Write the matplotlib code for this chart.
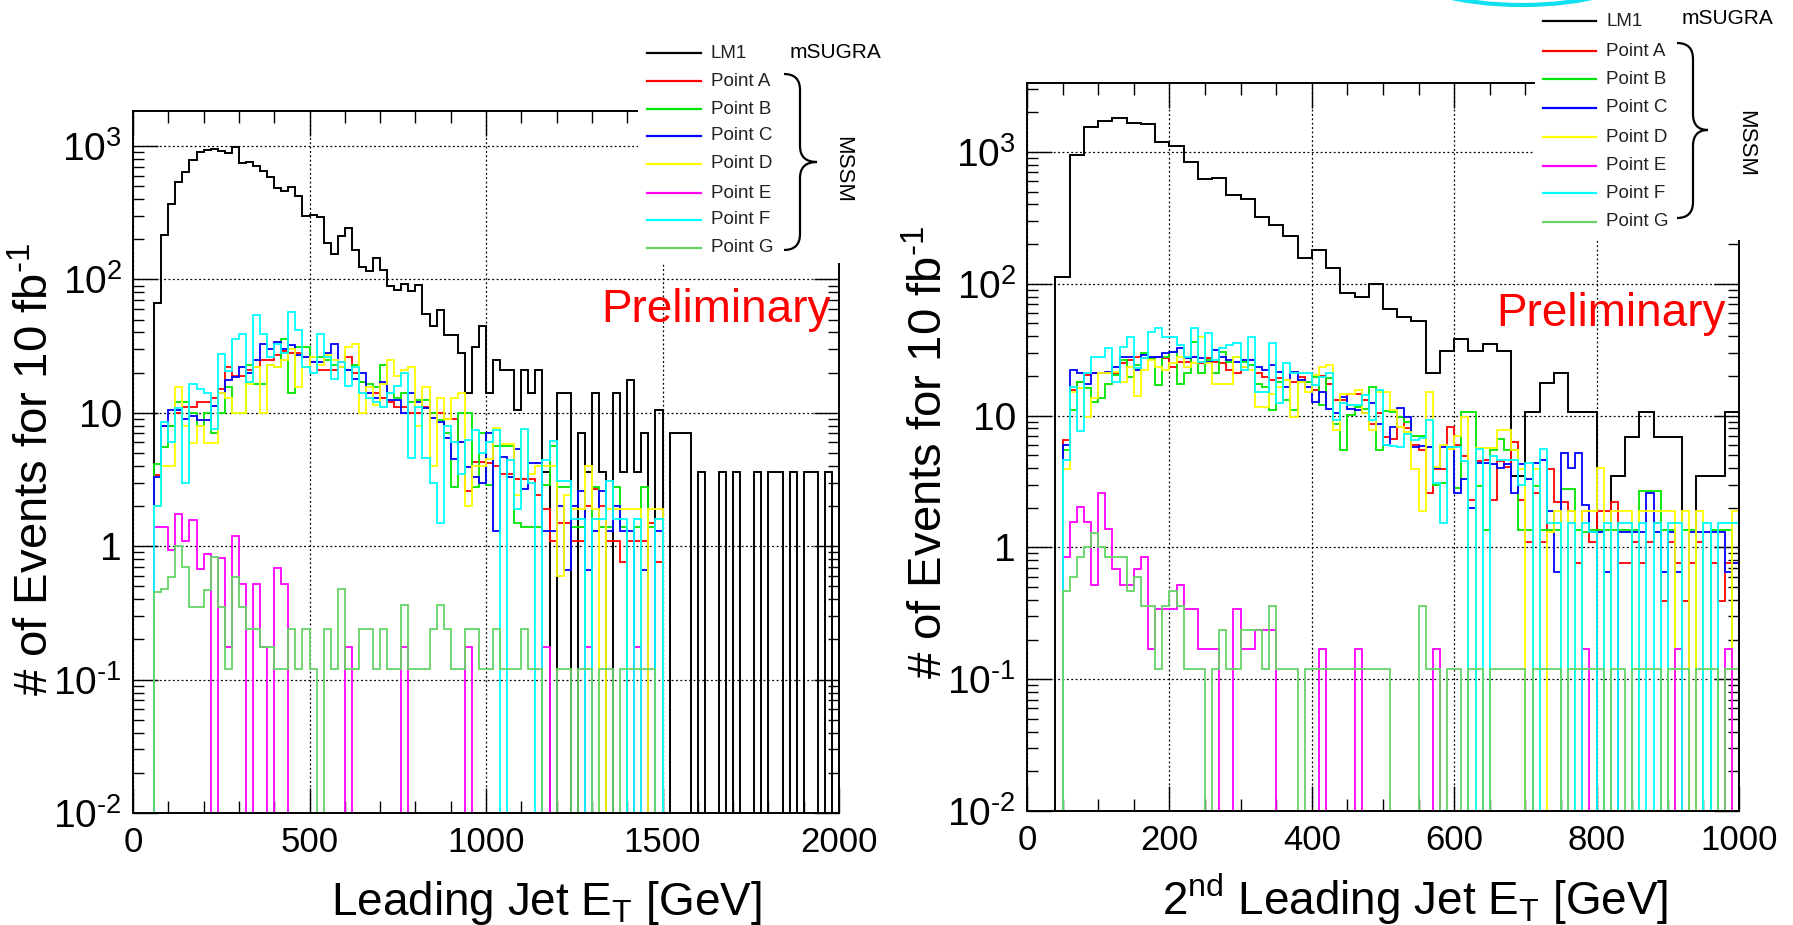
import numpy as np
import matplotlib
matplotlib.use('Agg')
from matplotlib import pyplot as plt
from matplotlib.lines import Line2D
from matplotlib.patches import Rectangle, Ellipse, PathPatch
from matplotlib.path import Path
from matplotlib.ticker import MultipleLocator, FixedLocator, FixedFormatter, LogLocator, NullFormatter

plt.rcParams['font.family'] = ['Liberation Sans', 'DejaVu Sans']
plt.rcParams['mathtext.fontset'] = 'custom'
plt.rcParams['mathtext.rm'] = 'Liberation Sans'

W, H = 1793, 925

series_names = ['LM1', 'Point A', 'Point B', 'Point C', 'Point D', 'Point E', 'Point F', 'Point G']
series_colors = ['black', '#ff0000', '#00e600', '#0000ff', '#ffff00', '#ff00ff', '#00ffff', '#66d466']

# ---- leading jet ET, 20 GeV bins ----
lead_lm1_start = 60     # LM1 bins 60..2000
lead_pt_start = 60      # MSSM points bins 60..1500
lead_bin = 20

lead_lm1 = [67, 215, 367, 540, 638, 785, 896, 928, 950, 923,
            881, 989, 741, 763, 708, 653, 582, 481, 459, 495,
            422, 298, 305, 292, 188, 155, 210, 241, 167, 124,
            115, 144, 117, 89, 84, 93, 82, 91, 55, 45,
            59, 38, 38, 28, 14, 31, 45,
            14, 25, 21, 21, 10.5, 21, 14, 21, 3.6, 0,
            14, 14, 0, 7, 3.6, 14, 3.6, 0, 14, 3.6,
            17.5, 3.6, 7, 0, 10.5, 0, 7, 7, 7, 0,
            3.6, 0, 0, 3.6, 0, 3.6, 0, 0, 3.6, 0,
            3.6, 3.6, 0, 3.6, 0, 3.6, 3.6, 0, 3.6, 0]
lead_a = [3.4, 8, 8, 10, 11, 11, 12, 12, 13, 15,
          22, 19, 19, 21, 22, 25, 25, 27, 29, 28,
          28, 26, 24, 21, 21, 21, 24, 26, 20, 17,
          14, 14, 13, 12, 11, 11, 10, 10, 11, 10,
          10, 9, 9, 6, 2.6, 4.3, 4.3, 4.2, 4.0, 3.5,
          3.5, 3.2, 3.2, 3.2, 2.4, 1.9, 1.1, 1.5, 1.5, 1.1,
          1.1, 2.0, 2.7, 2.0, 1.1, 1.1, 0.76, 1.1, 1.1, 1.1,
          1.5, 0.76]
lead_b = [4.1, 5.5, 8, 12, 12, 10, 8, 10, 7, 10,
          15.6, 10, 10, 23, 16.5, 16.5, 23, 22, 36, 14,
          31, 31, 26, 26, 25, 23, 22, 21, 23, 17,
          16.5, 15.6, 23, 14, 13, 14, 12, 12.5, 12.5, 10,
          8.9, 7, 2.8, 10, 10, 2.8, 7, 2.9, 5.6, 5.6,
          5.6, 1.5, 1.4, 1.4, 1.4, 2.9, 5.6, 2.8, 2.8, 1.4,
          1.4, 0, 2.8, 1.4, 1.4, 2.8, 1.4, 0, 1.4, 2.8,
          1.4, 0]
lead_c = [3.3, 8, 10.5, 10.5, 9, 9.5, 8.9, 8.9, 11.2, 14,
          17.6, 18.5, 22, 20, 25, 33, 30, 34, 30, 32,
          27, 26, 24, 24, 28, 33, 22, 21, 18, 20,
          14, 13, 17, 12.4, 12.4, 10, 14, 12, 10.8, 9.2,
          8.5, 6.5, 4.5, 6, 3.9, 3.3, 3, 7, 1.3, 4.7,
          3.3, 5.4, 2.7, 4.2, 4.2, 1.3, 1.3, 2, 0.66, 2,
          2.6, 0.66, 1.3, 2.6, 1.3, 2, 1.3, 1.3, 0, 0.66,
          0, 1.3]
lead_d = [2, 4, 4, 15.6, 7.9, 5.9, 7.9, 5.9, 5.9, 14,
          13, 10, 10, 16.5, 22, 10, 23, 22, 25, 30,
          15.6, 22, 26, 23, 27, 25, 22, 31, 33, 10,
          15.6, 11.5, 16.5, 25, 19, 21, 22, 7.9, 15.6, 4,
          13, 9, 13, 14, 2, 4, 4, 4.5, 7.7, 5.8,
          5.8, 2.4, 7.5, 3.5, 4, 4, 4, 0.6, 2.4, 1.9,
          1.9, 4, 1.9, 0, 1.9, 1.9, 1.9, 1.9, 1.9, 0,
          1.9, 1.9]
lead_e = [1.4, 1.4, 0.93, 1.74, 1.1, 1.57, 0.68, 0.87, 0, 0.81,
          0.175, 1.2, 0.52, 0, 0.52, 0.175, 0, 0.69, 0.52, 0,
          0, 0, 0, 0, 0, 0, 0, 0.175, 0, 0,
          0, 0, 0, 0, 0, 0.175, 0, 0, 0, 0,
          0, 0, 0, 0, 0.175, 0, 0, 0, 0, 0,
          0, 0, 0, 0, 0, 0.175, 0, 0, 0, 0,
          0, 0.175, 0, 0, 0, 0, 0, 0, 0.175, 0,
          0, 0]
lead_f = [2.0, 8.6, 6, 10.8, 3.0, 16.5, 15, 14, 7.6, 27.8,
          20.5, 36, 39, 17, 54, 39, 26, 33, 28, 57,
          42, 22, 20, 39, 26, 18, 24, 16, 22, 14,
          13, 12, 11, 14, 16, 20, 4.6, 11, 4.6, 3,
          1.5, 8, 6, 3.5, 6.3, 7.4, 5, 6, 7.4, 0,
          4.4, 1.9, 7.5, 3, 0, 4.4, 6.2, 3.1, 3.1, 1.6,
          1.6, 0, 1.6, 1.6, 3.1, 1.6, 1.6, 0, 1.6, 0,
          0, 1.6]
lead_g = [0.45, 0.48, 0.59, 1.0, 0.7, 0.35, 0.35, 0.47, 0.83, 0.35,
          0.12, 0.59, 0.35, 0.24, 0.24, 0.175, 0.175, 0.12, 0.12, 0.24,
          0.12, 0.24, 0.12, 0, 0.24, 0.12, 0.48, 0.12, 0.12, 0.24,
          0.24, 0.12, 0.24, 0.12, 0.12, 0.36, 0.12, 0.12, 0.12, 0.24,
          0.36, 0.24, 0.12, 0.12, 0.24, 0.24, 0.12, 0.12, 0.24, 0.12,
          0.12, 0.12, 0.24, 0.12, 0.12, 0, 0, 0.12, 0.12, 0,
          0.12, 0.12, 0, 0.12, 0.12, 0, 0.12, 0.12, 0.12, 0.12,
          0.12, 0]

# ---- 2nd leading jet ET: LM1 20 GeV bins from 40, points 10 GeV bins from 50 ----
sub_lm1_start, sub_lm1_bin = 40, 20
sub_pt_start, sub_pt_bin = 50, 10

sub_lm1 = [112, 944, 1557, 1710, 1802, 1668, 1630, 1184, 1117, 840,
           620, 635, 474, 437, 323, 277, 229, 156, 181, 132,
           84.5, 79, 99, 64, 56, 52, 21, 31, 38, 31,
           35, 31, 3.5, 10.6, 17.8, 21, 10.6, 10.6, 0, 3.5,
           6.9, 10.6, 6.9, 6.9, 0, 3.5, 3.5, 10.6]
sub_a = [6.5, 15.6, 18.1, 20.3, 20.9, 20.9, 20.9, 20.9, 24.9, 26.4,
         28.0, 27.2, 27.2, 28.0, 27.2, 23.5, 25.6, 25.6, 28.0, 24.9,
         27.2, 25.6, 24.9, 22.2, 20.9, 23.5, 26.4, 20.9, 19.7, 18.6,
         19.2, 18.6, 18.1, 19.7, 18.1, 15.6, 20.0, 17.5, 13.1, 13.1,
         14.5, 14.7, 13.1, 8.7, 10.4, 6.9, 6.7, 9.8, 8.0, 6.0,
         5.5, 2.6, 3.9, 3.9, 8.2, 6.0, 4.9, 2.3, 4.5, 4.6,
         2.3, 4.5, 4.1, 6.3, 2.3, 1.1, 2.6, 1.1, 3.9, 2.2,
         2.2, 1.9, 0.76, 1.9, 1.1, 1.9, 1.9, 2.2, 0.76, 0.76,
         1.1, 0.76, 1.1, 1.52, 0.39, 1.1, 0.76, 0.39, 0.76, 1.1,
         0, 0.76, 0.39, 0.76, 0.76]
sub_b = [5.5, 11.0, 18.1, 16.1, 12.7, 13.5, 17.5, 20.3, 26.4, 19.7,
         24.2, 29.7, 27.2, 17.1, 28.0, 30.5, 17.5, 20.9, 36.4, 20.9,
         26.4, 20.9, 30.5, 25.6, 28.0, 25.6, 24.2, 17.5, 16.6, 11.0,
         18.1, 13.1, 11.0, 18.1, 18.1, 19.7, 12.0, 19.2, 8.7, 5.5,
         10.1, 11.7, 11.3, 16.6, 5.5, 10.9, 10.7, 9.8, 8.9, 7,
         7, 5.8, 3, 3.1, 5.8, 2.8, 10.7, 10.7, 2.9, 1.35,
         5.5, 6.7, 5.5, 5.5, 1.35, 1.35, 2.9, 1.35, 1.35, 1.35,
         2.75, 2.75, 1.35, 1.3, 1.35, 1.35, 1.35, 1.35, 1.35, 1.35,
         1.35, 2.7, 2.7, 2.7, 1.35, 1.35, 0, 1.35, 1.35, 0,
         0, 1.35, 1.35, 1.35, 0]
sub_c = [6.0, 22.2, 20.9, 17.5, 20.9, 20.9, 21.5, 23.5, 28.0, 28.0,
         22.2, 28.8, 28.0, 28.0, 29.7, 30.5, 32.4, 27.2, 28.0, 27.2,
         25.6, 31.4, 28.0, 26.4, 25.6, 26.4, 26.4, 23.5, 22.2, 24.2,
         21.5, 16.6, 21.5, 18.6, 16.6, 12.7, 15.2, 11.3, 10.4, 13.9,
         11.3, 11.0, 10.4, 12.4, 8.7, 6, 8.2, 11.4, 9.8, 5.8,
         5.9, 5.8, 4, 5.8, 5.8, 2.6, 3.3, 2, 4.4, 4.4,
         4.3, 4, 4.3, 2.6, 4.3, 3.3, 4.4, 4.6, 1.9, 0.65,
         5.2, 4, 5.2, 2.1, 1.3, 1.3, 0.65, 0, 1.3, 1.3,
         1.3, 1.3, 2.6, 1.3, 0.65, 1.3, 0.65, 0, 1.3, 1.3,
         1.3, 1.3, 1.3, 0.65, 0.76]
sub_d = [3.9, 15.2, 16.1, 9.8, 13.5, 20.9, 20.9, 21.5, 18.1, 23.5,
         14.0, 22.2, 26.4, 23.5, 22.2, 24.9, 28.0, 23.5, 24.9, 39.7,
         24.9, 17.5, 17.5, 17.5, 28.0, 23.5, 22.2, 11.7, 11.7, 14.7,
         16.6, 18.6, 9.8, 18.1, 15.2, 20.3, 23.5, 24.2, 7.8, 14.7,
         14.7, 15.6, 10.4, 7.8, 15.2, 15.2, 11, 8.2, 7.5, 3.9,
         1.9, 15.2, 4.1, 6, 5.6, 7, 9.8, 0, 5.7, 5.7,
         5.7, 7.8, 7.8, 5.5, 3.9, 0, 3.9, 0, 1.3, 1.9,
         0, 1.9, 0, 1.9, 1.9, 4, 0, 1.9, 1.9, 1.9,
         0, 1.9, 1.9, 1.9, 1.9, 1.9, 0, 1.9, 0, 1.9,
         0, 0, 0, 0, 1.9]
sub_e = [0.84, 1.57, 2.04, 1.57, 0.52, 2.58, 1.37, 0.69, 0.52, 0.52,
         0.69, 0.85, 0.17, 0.34, 0.34, 0.34, 0.52, 0.34, 0.34, 0.17,
         0.17, 0.17, 0, 0, 0.34, 0.17, 0.17, 0.235, 0.235, 0.235,
         0, 0, 0, 0, 0, 0, 0.17, 0, 0, 0,
         0, 0.17, 0, 0, 0, 0, 0, 0, 0, 0,
         0, 0, 0.17, 0, 0, 0, 0, 0, 0, 0,
         0, 0, 0, 0, 0, 0, 0, 0, 0, 0,
         0, 0, 0, 0.17, 0, 0, 0, 0, 0, 0,
         0, 0, 0, 0, 0, 0, 0.17, 0, 0, 0,
         0, 0, 0, 0.17, 0]
sub_f = [4.6, 16.6, 7.6, 20.9, 28.0, 28.0, 32.4, 18.1, 33.3, 39.7,
         22.8, 27.2, 43.3, 45.9, 39.7, 39.7, 34.3, 28.0, 45.9, 25.6,
         42, 26.4, 32.4, 34.3, 35.3, 22.2, 39.7, 15.2, 15.2, 35.3,
         12.4, 24.9, 20.9, 20.9, 20.9, 17.1, 19.7, 20.9, 9.3, 12.4,
         12.0, 12.0, 14.3, 9.3, 15.6, 6, 5.9, 5.8, 7.3, 6.5,
         6.8, 9.3, 3.1, 1.52, 5.8, 5.8, 4.5, 0, 5.6, 0,
         4.9, 4.6, 4.6, 4.6, 3.0, 4.4, 0, 5.6, 1.52, 1.52,
         0, 1.52, 0, 1.52, 1.3, 0, 1.52, 0, 1.52, 1.52,
         0, 1.52, 0, 1.52, 0, 1.52, 1.52, 0, 0, 0,
         1.52, 0, 1.52, 1.52, 1.52]
sub_g = [0.47, 0.6, 0.85, 1.0, 1.29, 1.0, 0.85, 0.85, 0.85, 0.47,
         0.6, 0.36, 0.36, 0.12, 0.36, 0.47, 0.36, 0.12, 0.12, 0.12,
         0, 0.12, 0.235, 0.12, 0.12, 0.235, 0.235, 0.235, 0.12, 0.36,
         0.12, 0.12, 0.12, 0, 0.12, 0.12, 0.12, 0.12, 0.12, 0.12,
         0.12, 0.12, 0.12, 0.12, 0.12, 0.12, 0, 0, 0, 0,
         0.36, 0.12, 0.12, 0, 0.12, 0.12, 0, 0.12, 0.12, 0,
         0.12, 0.12, 0.12, 0.12, 0.12, 0, 0.12, 0.12, 0.12, 0.12,
         0, 0.12, 0.12, 0.12, 0.12, 0.12, 0, 0.12, 0.12, 0,
         0.12, 0.12, 0.12, 0.12, 0, 0.12, 0.12, 0.12, 0, 0.12,
         0.12, 0.12, 0, 0.12, 0.12]

FLOOR = 1e-5  # empty bins are drawn down to the axis bottom like ROOT does


def fx(x):
    return x / W


def fy(y):
    return 1 - y / H


def draw_hist(ax, vals, start, width, color, lw=1.3):
    v = np.asarray(vals, dtype=float)
    v = np.where(v > 0, v, FLOOR)
    edges = start + width * np.arange(len(v) + 1)
    ax.stairs(v, edges, baseline=FLOOR, color=color, lw=lw)


def style_axes(ax, xmax, ytop, xmaj, xmin_):
    ax.set_yscale('log')
    ax.set_xlim(0, xmax)
    ax.set_ylim(0.01, ytop)
    ax.xaxis.set_major_locator(MultipleLocator(xmaj))
    ax.xaxis.set_minor_locator(MultipleLocator(xmin_))
    ax.yaxis.set_major_locator(FixedLocator([1e-2, 1e-1, 1, 10, 1e2, 1e3]))
    ax.yaxis.set_major_formatter(FixedFormatter([r'$\mathregular{10^{\text{-}2}}$', r'$\mathregular{10^{\text{-}1}}$',
                                                 '1', '10', r'$\mathregular{10^{2}}$', r'$\mathregular{10^{3}}$']))
    ax.yaxis.set_minor_locator(LogLocator(base=10, subs=np.arange(2, 10), numticks=30))
    ax.yaxis.set_minor_formatter(NullFormatter())
    ax.tick_params(axis='both', which='both', direction='in', top=True, right=True, width=1.0)
    ax.tick_params(axis='y', which='major', length=18, labelsize=28, pad=8)
    ax.tick_params(axis='y', which='minor', length=8)
    ax.tick_params(axis='x', which='major', length=18, labelsize=25, pad=9)
    ax.tick_params(axis='x', which='minor', length=8.5)
    for s in ax.spines.values():
        s.set_linewidth(1.4)
    ax.set_axisbelow(True)
    ax.grid(True, which='major', color='black', ls=(0, (1.5, 2.0)), lw=0.9)


fig = plt.figure(figsize=(W / 100, H / 100), dpi=100)
ax_l = fig.add_axes([fx(133), fy(813), (839 - 133) / W, (813 - 111) / H])
ax_r = fig.add_axes([fx(1027), fy(811), (1739 - 1027) / W, (811 - 83) / H])

# left panel
draw_hist(ax_l, lead_lm1, lead_lm1_start, lead_bin, series_colors[0], lw=1.4)
for vals, col in zip([lead_a, lead_b, lead_c, lead_d, lead_e, lead_f, lead_g], series_colors[1:]):
    draw_hist(ax_l, vals, lead_pt_start, lead_bin, col)
style_axes(ax_l, 2000, 1830, 500, 100)

# right panel
draw_hist(ax_r, sub_lm1, sub_lm1_start, sub_lm1_bin, series_colors[0], lw=1.4)
for vals, col in zip([sub_a, sub_b, sub_c, sub_d, sub_e, sub_f, sub_g], series_colors[1:]):
    draw_hist(ax_r, vals, sub_pt_start, sub_pt_bin, col)
style_axes(ax_r, 1000, 3338, 200, 50)

for ax, xr in [(ax_l, 1976), (ax_r, 981)]:
    ax.text(xr, 48, 'Preliminary', color='red', fontsize=33, ha='right', va='baseline', zorder=5)

# axis titles
ylab = r'# of Events for 10 fb$^{\mathregular{\text{-}1}}$'
fig.text(fx(36), fy(469), ylab, rotation=90, fontsize=34, ha='center', va='center')
fig.text(fx(930), fy(452), ylab, rotation=90, fontsize=34, ha='center', va='center')
fig.text(fx(546), fy(915), r'Leading Jet E$_{\mathregular{T}}$ [GeV]', fontsize=33, ha='center', va='baseline')
fig.text(fx(1415), fy(915), r'2$^{\mathregular{nd}}$ Leading Jet E$_{\mathregular{T}}$ [GeV]',
         fontsize=33, ha='center', va='baseline')


def brace(x0, xs, xm, yt, ym, yb, r=16):
    pts = [(x0, yt), (xs, yt), (xs, yt + r), (xs, ym - r), (xs, ym), (xm, ym),
           (xs, ym), (xs, ym + r), (xs, yb - r), (xs, yb), (x0, yb)]
    codes = [Path.MOVETO, Path.CURVE3, Path.CURVE3, Path.LINETO, Path.CURVE3, Path.CURVE3,
             Path.CURVE3, Path.CURVE3, Path.LINETO, Path.CURVE3, Path.CURVE3]
    verts = [(fx(a), fy(b)) for a, b in pts]
    fig.add_artist(PathPatch(Path(verts, codes), fill=False, lw=1.6, color='black',
                             transform=fig.transFigure, zorder=4))


def legend(box, line_x, text_x, rows, msugra_xy, brace_args, mssm_xy):
    bx0, by0, bx1, by1 = box
    fig.add_artist(Rectangle((fx(bx0), fy(by1)), (bx1 - bx0) / W, (by1 - by0) / H,
                             transform=fig.transFigure, facecolor='white', edgecolor='none', zorder=2))
    for name, col, y in zip(series_names, series_colors, rows):
        fig.add_artist(Line2D([fx(line_x[0]), fx(line_x[1])], [fy(y), fy(y)], color=col, lw=1.6,
                              transform=fig.transFigure, zorder=3))
        fig.text(fx(text_x), fy(y), name, fontsize=13.5, color='#222222', ha='left', va='center', zorder=3)
    fig.text(fx(msugra_xy[0]), fy(msugra_xy[1]), 'mSUGRA', fontsize=15, ha='left', va='center', zorder=3)
    brace(*brace_args)
    fig.text(fx(mssm_xy[0]), fy(mssm_xy[1]), 'MSSM', fontsize=16, rotation=270,
             ha='center', va='center', zorder=3)


legend((638, 0, 846, 263), (647, 701), 711, [53, 81, 109, 136, 164, 193, 220, 248],
       (790, 53), (784, 800, 817, 74, 162, 250), (843, 169))
legend((1535, 0, 1746, 240), (1543, 1596), 1606, [21, 51, 79, 108, 137, 166, 193, 222],
       (1682, 19), (1677, 1693, 1708, 43, 130, 218), (1746, 144))

# cyan highlight arc cut by the top edge
fig.add_artist(Ellipse((fx(1522), fy(-30)), 234 / W, 70 / H, fill=False, edgecolor='#10e0f0',
                       lw=3, transform=fig.transFigure, zorder=3))

fig.savefig('out.png', dpi=100)
